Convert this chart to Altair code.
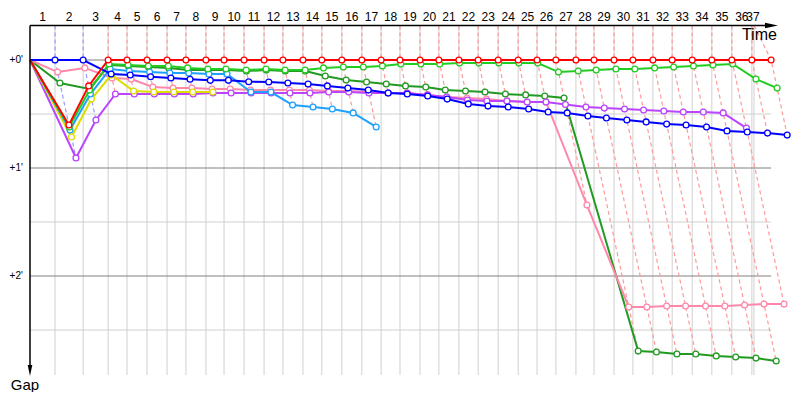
import altair as alt
import pandas as pd

# ---------------- data ----------------
laps = list(range(1, 38))
# leader's cumulative time (s) at the end of each lap
leader_times = [65, 138, 203, 252, 304, 356, 405, 457, 504, 556, 608, 657, 709, 758,
                810, 862, 912, 961, 1013, 1062, 1114, 1164, 1216, 1268, 1317, 1366,
                1418, 1465, 1517, 1566, 1618, 1668, 1720, 1771, 1823, 1875, 1925]
race_end_time = 1880.5

# drawing order: back to front
car_names = ["Green", "Pink", "Violet", "Yellow", "Sky", "Lime", "Blue", "Red"]
car_colors = ["#229922", "#ff88aa", "#bb44ff", "#dddd00", "#1ea0ff", "#22cc22", "#0000ff", "#ff0000"]

# gap to leader (s) at each completed lap
gap_red = [36.1, 14.4, 0, 0, 0, 0, 0, 0, 0, 0, 0, 0, 0, 0, 0, 0, 0, 0, 0, 0, 0, 0,
           0, 0, 0, 0, 0, 0, 0, 0, 0, 0, 0, 0, 0, 0, 0]
gap_blue = [0, 0, 7.8, 8.3, 9.3, 10.0, 10.7, 11.3, 11.3, 12.1, 12.2, 12.8, 13.3, 14.4,
            15.6, 16.7, 18.3, 18.9, 20.0, 21.7, 24.4, 25.6, 26.1, 27.2, 28.9, 29.4,
            31.1, 32.2, 33.3, 34.4, 35.6, 36.1, 37.2, 39.4, 40.0, 40.6, 41.7]
gap_lime = [37.2, 16.7, 2.2, 2.8, 3.3, 3.3, 4.4, 5.0, 5.0, 5.6, 5.0, 5.6, 5.6, 4.4,
            3.9, 3.9, 3.3, 2.2, 2.2, 2.2, 1.7, 1.7, 1.7, 1.7, 1.7, 6.7, 6.1, 5.6,
            5.0, 5.0, 4.4, 3.9, 3.3, 2.8, 2.2, 10.6, 15.6]
gap_green = [12.8, 16.1, 2.8, 3.3, 3.9, 4.4, 5.6, 5.6, 5.6, 6.1, 5.6, 6.1, 6.1, 8.9,
             11.1, 12.2, 13.3, 14.4, 15.0, 16.7, 17.2, 17.8, 18.9, 19.4, 20.0, 21.1,
             161.7, 162.2, 163.3, 163.3, 164.4, 165.0, 165.6, 167.2]
gap_pink = [6.7, 4.4, 10.0, 10.6, 15.0, 15.6, 15.6, 16.1, 16.1, 16.7, 16.7, 16.7, 16.7,
            17.2, 17.2, 17.8, 18.3, 18.3, 19.4, 20.6, 21.1, 21.7, 22.8, 23.3, 23.3,
            80.6, 137.2, 137.2, 136.7, 136.7, 136.7, 136.7, 136.1, 135.6, 135.6]
gap_sky = [38.9, 18.9, 5.0, 6.1, 6.7, 7.2, 7.2, 7.8, 7.8, 17.8, 17.8, 25.0, 26.1, 27.2,
           29.4, 37.2]
gap_yellow = [42.8, 21.7, 8.3, 17.2, 17.8, 17.8, 17.8, 17.8]
gap_violet = [54.4, 33.3, 18.9, 18.9, 18.9, 18.9, 18.9, 18.3, 18.3, 18.3, 18.3, 18.3,
              18.3, 17.8, 17.8, 18.3, 18.3, 18.3, 19.4, 20.6, 22.2, 22.8, 22.8, 23.3,
              23.3, 24.7, 26.1, 26.7, 27.2, 27.8, 28.3, 28.9, 28.9, 29.4, 37.8]

car_gaps = {"Red": gap_red, "Blue": gap_blue, "Lime": gap_lime, "Green": gap_green,
            "Pink": gap_pink, "Sky": gap_sky, "Yellow": gap_yellow, "Violet": gap_violet}

gap_major = [0, 60, 120]
gap_minor = [30, 90, 150]
gap_labels = ["+0'", "+1'", "+2'"]

# ---------------- scales (whole SVG is the plot area) ----------------
W, H = 784, 384
KX, KY = 0.385, 1.8           # px per second, horizontally / vertically
x_dom = [-22 / KX, (W - 22) / KX]
y_dom = [-52 / KY, (H - 52) / KY]
xs = alt.Scale(domain=x_dom, nice=False, zero=False)
ys = alt.Scale(domain=y_dom, nice=False, zero=False, reverse=True)
TOP = -19.2      # gap value of the time axis line
BOTTOM = 175.0   # bottom end of the grid
FONT = "Liberation Sans"


def X(f):
    return alt.X(f, type="quantitative", scale=xs, axis=None)


def Y(f):
    return alt.Y(f, type="quantitative", scale=ys, axis=None)


layers = []

# grid: vertical lines at the leader's lap times
lap_marks = [min(t, race_end_time) for t in leader_times]
vgrid = pd.DataFrame({"t": lap_marks, "g1": TOP, "g2": BOTTOM})
layers.append(alt.Chart(vgrid).mark_rule(color="#d0d0d0", strokeWidth=1).encode(
    x=X("t"), y=Y("g1"), y2="g2"))

# grid: horizontal lines
hmin = pd.DataFrame({"g": gap_minor, "t1": 0, "t2": leader_times[-1]})
hmaj = pd.DataFrame({"g": gap_major, "t1": 0, "t2": leader_times[-1]})
layers.append(alt.Chart(hmin).mark_rule(color="#d0d0d0", strokeWidth=1).encode(
    y=Y("g"), x=X("t1"), x2="t2"))
layers.append(alt.Chart(hmaj).mark_rule(color="#808080", strokeWidth=1).encode(
    y=Y("g"), x=X("t1"), x2="t2"))

# dashed lap lines connecting every car's lap-k crossing
rows = []
for k, lap in enumerate(laps):
    lt = leader_times[k]
    pts = sorted((g[k], c) for c, g in car_gaps.items() if k < len(g))
    lead = pts[0][1]
    rows.append({"lap": lap, "t": min(lt, race_end_time), "g": TOP, "o": -1, "lead": lead})
    for i, (g, c) in enumerate(pts):
        rows.append({"lap": lap, "t": lt + g, "g": g, "o": i, "lead": lead})
lapdf = pd.DataFrame(rows)
for lead, col in [("Blue", "#9a9aff"), ("Red", "#ff9a9a")]:
    layers.append(alt.Chart(lapdf[lapdf["lead"] == lead]).mark_line(
        color=col, strokeWidth=1.2, strokeDash=[4, 3]).encode(
        x=X("t"), y=Y("g"), detail="lap:N", order="o:Q"))

# cars
cscale = alt.Scale(domain=car_names, range=car_colors)
for name in car_names:
    gaps = car_gaps[name]
    d = pd.DataFrame({"lap": [0] + laps[:len(gaps)],
                      "t": [0] + [leader_times[i] + gaps[i] for i in range(len(gaps))],
                      "g": [0] + gaps, "car": name})
    layers.append(alt.Chart(d).mark_line(strokeWidth=2).encode(
        x=X("t"), y=Y("g"), order="lap:Q",
        color=alt.Color("car:N", scale=cscale, legend=None)))
    layers.append(alt.Chart(d[d["lap"] > 0]).mark_point(
        shape="circle", filled=True, fill="white", size=34, strokeWidth=1.3, opacity=1).encode(
        x=X("t"), y=Y("g"),
        stroke=alt.Stroke("car:N", scale=cscale, legend=None)))

# axes (arrows)
axes_h = pd.DataFrame({"t1": [0], "t2": [1926], "g": [TOP]})
axes_v = pd.DataFrame({"t": [0], "g1": [TOP], "g2": [172.5]})
layers.append(alt.Chart(axes_h).mark_rule(color="black", strokeWidth=1.5).encode(
    x=X("t1"), x2="t2", y=Y("g")))
layers.append(alt.Chart(axes_v).mark_rule(color="black", strokeWidth=1.5).encode(
    x=X("t"), y=Y("g1"), y2="g2"))
arr_r = pd.DataFrame({"t": [1926], "g": [TOP]})
arr_d = pd.DataFrame({"t": [0], "g": [172.5]})
layers.append(alt.Chart(arr_r).mark_point(
    shape="M-1,-0.42L1,0L-1,0.42Z", filled=True, color="black", size=169, opacity=1).encode(
    x=X("t"), y=Y("g")))
layers.append(alt.Chart(arr_d).mark_point(
    shape="M-0.42,-1L0,1L0.42,-1Z", filled=True, color="black", size=121, opacity=1).encode(
    x=X("t"), y=Y("g")))

# lap number labels centred in each lap interval
bounds = [0] + lap_marks
lab = pd.DataFrame({"t": [(bounds[i] + bounds[i + 1]) / 2 for i in range(len(laps))],
                    "g": -23.9, "txt": [str(l) for l in laps]})
layers.append(alt.Chart(lab).mark_text(font=FONT, fontSize=12, color="black",
                                       align="center", baseline="middle").encode(
    x=X("t"), y=Y("g"), text="txt:N"))

# gap labels
gl = pd.DataFrame({"t": -18.5, "g": gap_major, "txt": gap_labels})
layers.append(alt.Chart(gl).mark_text(font=FONT, fontSize=10, color="black",
                                      align="right", baseline="middle").encode(
    x=X("t"), y=Y("g"), text="txt:N"))

# axis titles
tt = pd.DataFrame({"t": [1940], "g": [-13.9], "txt": ["Time"]})
layers.append(alt.Chart(tt).mark_text(font=FONT, fontSize=16, color="black",
                                      align="right", baseline="middle").encode(
    x=X("t"), y=Y("g"), text="txt:N"))
gt = pd.DataFrame({"t": [-13], "g": [180.8], "txt": ["Gap"]})
layers.append(alt.Chart(gt).mark_text(font=FONT, fontSize=15, color="black",
                                      align="center", baseline="middle").encode(
    x=X("t"), y=Y("g"), text="txt:N"))

chart = alt.layer(*layers).properties(
    width=W, height=H, padding=0,
    autosize=alt.AutoSizeParams(type="none"),
    background="white",
).configure_view(stroke=None)

chart.save("out.html", embed_options={"renderer": "svg", "actions": False})
